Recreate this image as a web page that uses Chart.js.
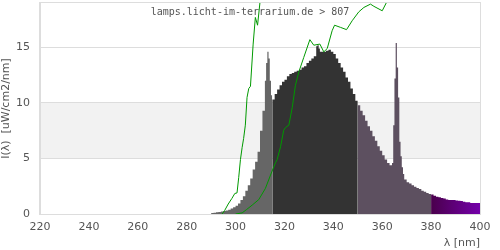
<!DOCTYPE html>
<html>
<head>
<meta charset="utf-8">
<script src="https://cdn.jsdelivr.net/npm/chart.js@4"></script>
<style>
  html, body { margin: 0; padding: 0; background: #fff; }
  #wrap { width: 500px; height: 250px; }
</style>
</head>
<body>
<div id="wrap"><canvas id="chart"></canvas></div>
<script>
// spectrum (nm -> uW/cm2/nm)
const wavelengths = [290, 291, 292, 293, 294, 295, 296, 297, 298, 299, 300, 301, 302, 303, 304, 305, 306, 307, 308, 309, 310, 311, 312, 312.5, 313, 313.5, 314, 314.5,
  315, 316, 317, 318, 319, 320, 321, 322, 323, 324, 325, 326, 327, 328, 329, 330, 331, 332, 333, 333.5, 334, 334.5, 335, 336, 337, 338, 339, 340, 341, 342, 343, 344, 345, 346, 347, 348, 349,
  350, 351, 352, 353, 354, 355, 356, 357, 358, 359, 360, 361, 362, 363, 364, 364.5, 365, 365.5, 366, 366.5, 367, 367.5, 368, 368.5, 369, 370, 371, 372, 373, 374, 375, 376, 377, 378, 379,
  380, 381, 382, 383, 384, 385, 386, 387, 388, 389, 390, 391, 392, 393, 394, 395, 396, 397, 398, 399, 400];
const irradiance = [0.1, 0.1, 0.12, 0.15, 0.18, 0.22, 0.27, 0.32, 0.38, 0.5, 0.6, 0.75, 0.95, 1.25, 1.6, 2.1, 2.6, 3.2, 4.0, 4.7, 5.6, 7.5, 9.3, 12.0, 13.6, 14.6, 14.0, 12.0,
  10.7, 10.3, 10.8, 11.2, 11.6, 11.9, 12.1, 12.4, 12.6, 12.7, 12.8, 12.9, 13.0, 13.2, 13.3, 13.6, 13.8, 14.0, 14.2, 15.1, 15.2, 14.9, 14.6, 14.6, 14.6, 14.7, 14.8, 14.6, 14.4, 14.0, 13.6, 13.2, 12.8, 12.3, 11.9, 11.3, 10.8,
  10.2, 9.8, 9.3, 8.9, 8.4, 7.9, 7.5, 7.0, 6.6, 6.1, 5.7, 5.3, 4.9, 4.6, 4.4, 4.6, 8.0, 12.2, 15.4, 13.2, 10.5, 6.5, 5.2, 4.2, 3.6, 3.1, 2.85, 2.75, 2.6, 2.45, 2.35, 2.25, 2.1, 2.0, 1.9,
  1.8, 1.75, 1.65, 1.55, 1.5, 1.45, 1.4, 1.3, 1.27, 1.25, 1.25, 1.22, 1.2, 1.18, 1.1, 1.05, 1.05, 1.0, 1.0, 1.0, 1.0];

// green reference curves
const curveA_x = [294.5, 295.5, 297, 298.5, 299.7, 300.6, 301.3, 302, 302.7, 303.3, 304, 304.7, 305.4, 306.1, 307.2, 308.1, 309, 310.2, 311];
const curveA_y = [0, 0.3, 0.9, 1.4, 1.85, 1.9, 3.3, 4.9, 6.0, 6.8, 8.0, 10.5, 11.3, 11.5, 15.3, 17.7, 17.0, 19.5, 21];
const curveB_x = [300, 302.7, 304.5, 306.8, 309.5, 312.2, 314.3, 316.3, 317, 318.4, 319.7, 320.5, 321.8, 323.2, 324.5, 325.9, 327.9, 330.4, 332, 334.5, 336.1, 337.5, 339.5, 340.5, 343, 345.4, 347.7, 350.4, 352.5, 355.2, 356.6, 360, 362.1, 364];
const curveB_y = [0, 0.1, 0.4, 0.8, 1.3, 2.3, 3.5, 4.6, 4.9, 6.05, 7.55, 7.8, 8.0, 9.6, 11.6, 12.8, 14.1, 15.7, 15.2, 15.3, 14.6, 14.9, 16.5, 17.0, 16.8, 16.6, 17.4, 18.2, 18.6, 18.9, 18.7, 18.3, 19.2, 20.5];

// color bands of the spectrum
const bandEdges = [290, 315, 350, 380, 400];
const bandColors = ['#666666', '#333333', '#5d5060', 'gradient'];

const xTicks = [220, 240, 260, 280, 300, 320, 340, 360, 380, 400];
const yTicks = [0, 5, 10, 15];
const titleText = 'lamps.licht-im-terrarium.de > 807';

function pts(xs, ys, lo, hi) {
    const out = [];
    xs.forEach((x, i) => {
        if (x >= lo && x <= hi) out.push({ x: x, y: ys[i] });
    });
    return out;
}

function purpleGradient(context) {
    const chart = context.chart;
    const area = chart.chartArea;
    if (!area) return '#5a0078';
    const sx = chart.scales.x;
    const g = chart.ctx.createLinearGradient(sx.getPixelForValue(380), 0, sx.getPixelForValue(400), 0);
    g.addColorStop(0, '#4a004c');
    g.addColorStop(1, '#7400aa');
    return g;
}

const datasets = [
    { label: 'a', data: pts(curveA_x, curveA_y, 0, 999), borderColor: '#009900', borderWidth: 1, pointRadius: 0, fill: false, tension: 0 },
    { label: 'b', data: pts(curveB_x, curveB_y, 0, 999), borderColor: '#009900', borderWidth: 1, pointRadius: 0, fill: false, tension: 0 }
];
for (let i = 0; i < bandColors.length; i++) {
    const col = bandColors[i] === 'gradient' ? purpleGradient : bandColors[i];
    datasets.push({
        label: 'band' + i,
        data: pts(wavelengths, irradiance, bandEdges[i], bandEdges[i + 1]),
        stepped: 'after',
        borderWidth: 0,
        borderColor: 'rgba(0,0,0,0)',
        backgroundColor: col,
        pointRadius: 0,
        fill: 'origin'
    });
}

const decor = {
    id: 'decor',
    beforeDraw(chart) {
        const { ctx, chartArea, scales } = chart;
        const y5 = scales.y.getPixelForValue(5);
        const y10 = scales.y.getPixelForValue(10);
        ctx.save();
        ctx.fillStyle = '#f2f2f2';
        ctx.fillRect(chartArea.left, y10, chartArea.right - chartArea.left, y5 - y10);
        ctx.restore();
    },
    beforeDatasetsDraw(chart) {
        const { ctx, chartArea } = chart;
        ctx.save();
        ctx.font = '10px "DejaVu Sans Mono"';
        ctx.fillStyle = '#555';
        ctx.textAlign = 'center';
        ctx.textBaseline = 'middle';
        ctx.fillText(titleText, 250, chartArea.top + 9);
        ctx.restore();
    },
    afterDraw(chart) {
        const { ctx, chartArea } = chart;
        ctx.save();
        ctx.strokeStyle = '#dddddd';
        ctx.lineWidth = 1;
        ctx.strokeRect(chartArea.left - 0.5, chartArea.top - 0.5, chartArea.right - chartArea.left + 1, chartArea.bottom - chartArea.top + 1);
        ctx.restore();
    }
};

new Chart(document.getElementById('chart'), {
    type: 'line',
    data: { datasets: datasets },
    plugins: [decor],
    options: {
        responsive: true,
        maintainAspectRatio: false,
        animation: false,
        layout: { padding: { top: 3, right: 20, left: 0, bottom: 0 } },
        plugins: { legend: { display: false }, tooltip: { enabled: false } },
        scales: {
            x: {
                type: 'linear',
                min: 220,
                max: 400,
                afterBuildTicks: (s) => { s.ticks = xTicks.map(v => ({ value: v })); },
                afterFit: (s) => { s.height = 36; s.paddingLeft = 0; s.paddingRight = 0; },
                grid: { display: false, drawTicks: false },
                border: { color: '#dddddd' },
                ticks: { color: '#555', padding: 7, maxRotation: 0, font: { family: 'DejaVu Sans', size: 11 } },
                title: { display: true, text: 'λ [nm]', align: 'end', color: '#555', padding: 0, font: { family: 'DejaVu Sans', size: 11 } }
            },
            y: {
                min: 0,
                max: 19,
                afterBuildTicks: (s) => { s.ticks = yTicks.map(v => ({ value: v })); },
                afterFit: (s) => { s.width = 40; s.paddingTop = 0; s.paddingBottom = 0; },
                grid: { color: '#dddddd', drawTicks: false },
                border: { color: '#dddddd' },
                ticks: { color: '#555', padding: 10, font: { family: 'DejaVu Sans', size: 11 } },
                title: { display: true, text: 'I(λ)  [uW/cm2/nm]', color: '#555', padding: 0, font: { family: 'DejaVu Sans', size: 11 } }
            }
        }
    }
});
</script>
</body>
</html>
